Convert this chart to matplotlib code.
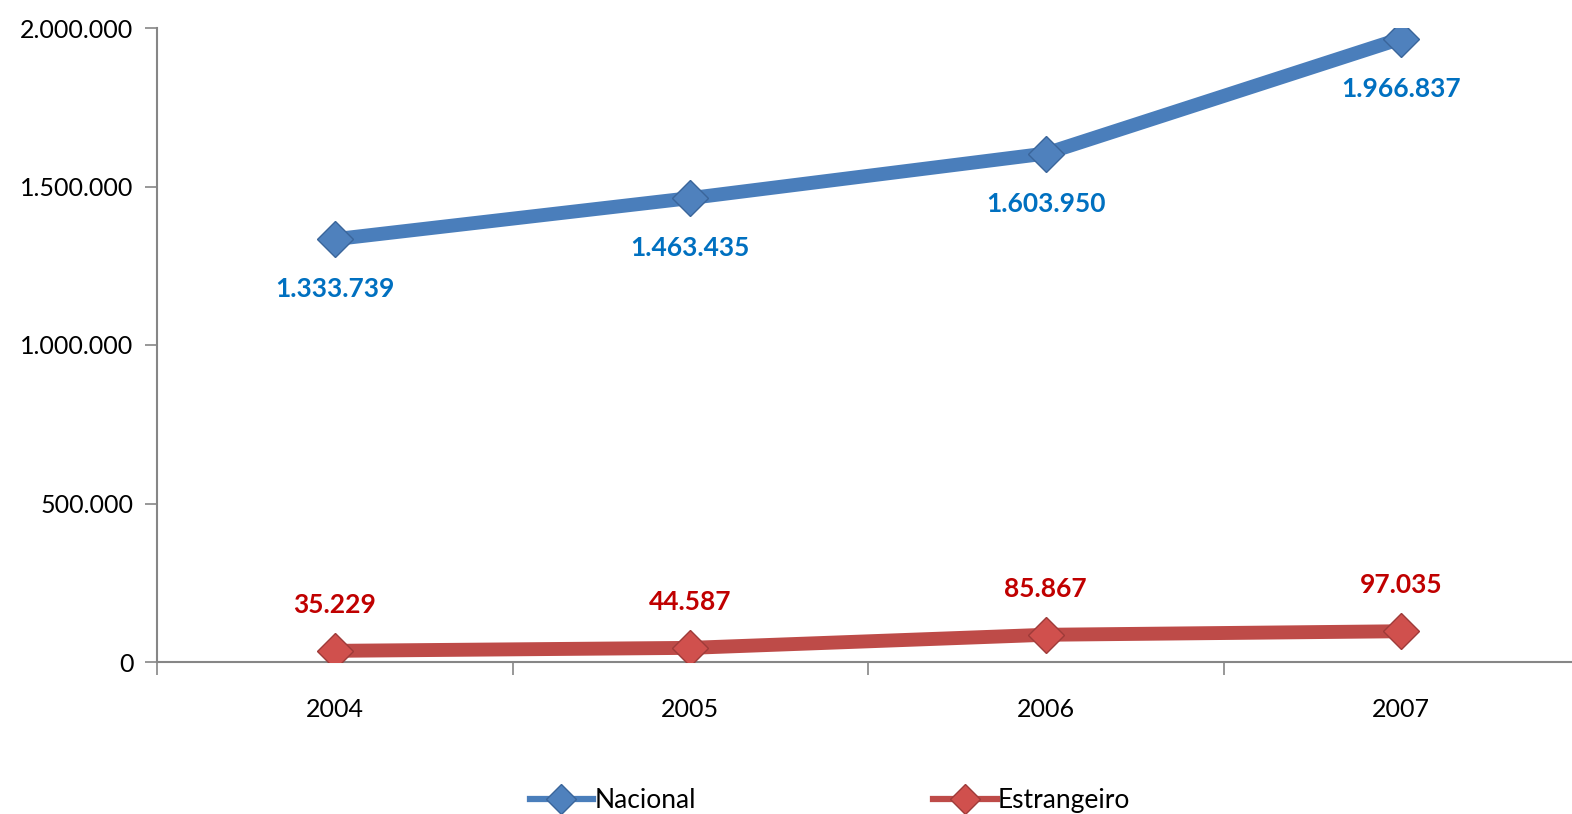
import matplotlib
matplotlib.use("Agg")
import matplotlib.pyplot as plt
from matplotlib.lines import Line2D
from matplotlib.ticker import FuncFormatter, FixedLocator

anos = ["2004", "2005", "2006", "2007"]
nacional = [1333739, 1463435, 1603950, 1966837]
estrangeiro = [35229, 44587, 85867, 97035]

plt.rcParams['font.family'] = ['Lato', 'DejaVu Sans']

fig = plt.figure(figsize=(15.72, 8.14), dpi=100)
ax = fig.add_axes([157 / 1572, 152 / 814, 1422 / 1572, 634 / 814])

x = list(range(len(anos)))
azul, vermelho = "#4A7EBB", "#BE4B48"
estilo_n = dict(color=azul, marker="D", markerfacecolor="#4F81BD",
                markeredgecolor="#3A659A", mew=1)
estilo_e = dict(color=vermelho, marker="D", markerfacecolor="#D0504D",
                markeredgecolor="#9E3B39", mew=1)
ax.plot(x, nacional, lw=10, ms=18, solid_capstyle="butt", zorder=3, **estilo_n)
ax.plot(x, estrangeiro, lw=10, ms=18, solid_capstyle="butt", zorder=3, **estilo_e)

def fmt(v):
    return f"{int(v):,}".replace(",", ".")

for xi, v in zip(x, nacional):
    ax.annotate(fmt(v), (xi, v), xytext=(0, -36), textcoords="offset points",
                ha="center", va="center", color="#0070C0", fontsize=19,
                fontweight="bold")
for xi, v in zip(x, estrangeiro):
    ax.annotate(fmt(v), (xi, v), xytext=(0, 33), textcoords="offset points",
                ha="center", va="center", color="#C00000", fontsize=19,
                fontweight="bold")

ax.set_xlim(-0.5, 3.5)
ax.set_ylim(0, 2000000)
ax.set_yticks([0, 500000, 1000000, 1500000, 2000000])
ax.yaxis.set_major_formatter(FuncFormatter(lambda v, p: fmt(v)))
ax.set_xticks(x)
ax.set_xticklabels(anos)
ax.xaxis.set_minor_locator(FixedLocator([-0.5, 0.5, 1.5, 2.5, 3.5]))
ax.tick_params(axis="x", which="major", length=0, pad=26, labelsize=18)
ax.tick_params(axis="x", which="minor", length=9, width=1.2, color="#868686")
ax.tick_params(axis="y", length=9, width=1.2, color="#868686", labelsize=18, pad=8)

for s in ["top", "right"]:
    ax.spines[s].set_visible(False)
for s in ["left", "bottom"]:
    ax.spines[s].set_color("#868686")
    ax.spines[s].set_linewidth(1.5)

handles = [Line2D([], [], lw=4.5, ms=15, label="Nacional", **estilo_n),
           Line2D([], [], lw=4.5, ms=15, label="Estrangeiro", **estilo_e)]
fig.legend(handles=handles, loc="lower center", bbox_to_anchor=(0.528, -0.028),
           ncol=2, frameon=False, fontsize=19, columnspacing=9,
           handlelength=2.4, handletextpad=0.05)

fig.savefig("out.png", dpi=100)
